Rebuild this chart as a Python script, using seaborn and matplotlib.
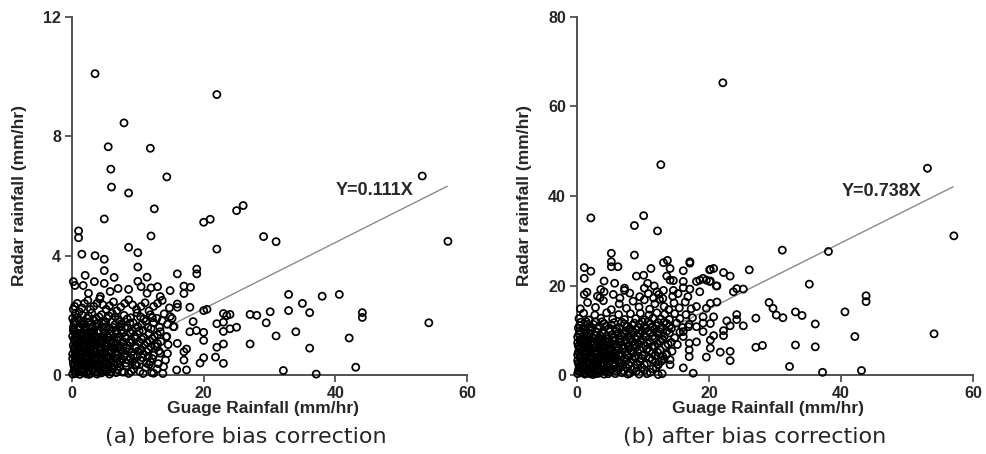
import matplotlib
matplotlib.use("Agg")
import matplotlib.pyplot as plt
import seaborn as sns
import pandas as pd

# ---------------- data ----------------
x_ticks = [0, 20, 40, 60]
y_ticks_a = [0, 4, 8, 12]
y_ticks_b = [0, 20, 40, 60, 80]
slope_a = 0.111
slope_b = 0.738
line_x = [0, 57]
eq_a = "Y=0.111X"
eq_b = "Y=0.738X"
x_label = "Guage Rainfall (mm/hr)"
y_label = "Radar rainfall (mm/hr)"
caption_a = "(a) before bias correction"
caption_b = "(b) after bias correction"

# (a) before bias correction: scattered points (gauge, radar)
scatter_a = [
    (3.5, 10.1), (22.0, 9.4), (7.9, 8.45), (5.5, 7.65), (11.9, 7.6), (5.9, 6.9),
    (14.4, 6.64), (53.2, 6.67), (6.0, 6.3), (8.6, 6.1), (12.5, 5.57), (4.9, 5.23),
    (1.0, 4.83), (1.0, 4.6), (12.0, 4.66), (20.0, 5.12), (21.0, 5.22), (25.0, 5.51),
    (26.0, 5.68), (29.1, 4.64), (31.0, 4.47), (22.0, 4.22), (57.1, 4.48), (8.6, 4.28),
    (10.0, 4.1), (1.5, 4.05), (3.5, 4.0), (4.9, 3.88), (10.0, 3.62), (4.9, 3.5),
    (2.0, 3.34), (6.4, 3.27), (11.4, 3.28), (16.0, 3.39), (18.95, 3.55), (18.95, 3.39),
    (32.9, 2.7), (38.0, 2.64), (40.6, 2.7), (35.0, 2.4), (44.1, 2.09), (44.1, 1.93),
    (27.05, 2.03), (28.07, 2.0), (30.1, 2.12), (32.9, 2.16), (36.1, 2.09), (29.5, 1.75),
    (54.2, 1.75), (34.0, 1.45), (31.0, 1.31), (42.1, 1.24), (27.05, 1.04), (36.1, 0.9),
    (32.1, 0.15), (37.1, 0.03), (43.1, 0.26), (22.0, 1.72), (23.0, 1.77), (24.0, 2.03),
    (23.0, 2.06), (23.5, 1.99), (25.0, 1.6), (24.0, 1.55), (23.0, 1.46), (23.0, 1.04),
    (22.0, 0.93), (21.8, 0.6), (23.0, 0.39), (20.0, 2.16), (20.5, 2.2), (20.0, 1.43),
    (20.0, 1.16), (20.0, 0.58), (19.45, 0.4), (18.9, 1.49), (17.9, 2.27), (17.9, 1.45),
    (17.4, 0.17), (15.9, 0.17), (17.0, 0.5), (17.0, 0.78), (16.0, 1.06), (17.4, 0.87),
    (18.4, 1.79), (16.0, 2.27), (16.0, 2.38), (17.0, 2.98), (17.0, 2.73), (18.0, 2.94),
    (14.9, 2.83), (13.4, 2.63), (13.0, 2.96), (0.45, 3.0), (1.7, 3.0), (10.0, 3.14),
    (3.4, 3.13), (4.9, 3.07), (8.6, 2.87), (7.0, 2.9), (10.5, 2.96), (12.0, 2.92),
    (11.4, 2.74), (2.5, 2.74), (4.3, 2.63), (5.8, 2.8), (0.2, 3.13), (14.9, 1.96),
    (15.4, 1.62), (14.4, 1.29), (13.4, 0.73), (13.9, 0.28), (12.4, 0.06), (11.9, 0.45),
    (12.9, 0.95),
]

# (a) dense cluster near the origin (gauge, radar)
cluster_a = [
    (0.1, 0.03), (0.3, 0.15), (0.5, 0.05), (0.7, 0.25), (0.9, 0.1), (1.2, 0.02), (1.4, 0.2),
    (1.7, 0.08), (2.0, 0.28), (2.2, 0.04), (2.5, 0.15), (2.8, 0.05), (3.1, 0.22), (3.4, 0.1),
    (3.8, 0.03), (4.1, 0.18), (4.5, 0.07), (4.9, 0.25), (5.3, 0.12), (5.7, 0.03), (6.2, 0.2),
    (6.7, 0.08), (7.3, 0.27), (7.9, 0.1), (8.6, 0.05), (9.4, 0.2), (10.3, 0.12), (11.2, 0.25),
    (12.1, 0.08), (12.9, 0.2), (13.8, 0.05),
    (0.2, 0.4), (0.5, 0.55), (0.8, 0.35), (1.1, 0.5), (1.4, 0.38), (1.8, 0.58), (2.1, 0.42),
    (2.5, 0.33), (2.9, 0.52), (3.2, 0.4), (3.6, 0.58), (4.0, 0.36), (4.4, 0.5), (4.8, 0.4),
    (5.2, 0.56), (5.6, 0.34), (6.0, 0.47), (6.5, 0.58), (7.0, 0.38), (7.6, 0.52), (8.2, 0.4),
    (8.9, 0.57), (9.6, 0.35), (10.4, 0.5), (11.3, 0.4), (12.2, 0.55), (13.1, 0.38), (14.2, 0.5),
    (0.1, 0.7), (0.4, 0.85), (0.7, 0.65), (1.0, 0.8), (1.3, 0.68), (1.7, 0.88), (2.0, 0.72),
    (2.4, 0.62), (2.8, 0.83), (3.1, 0.7), (3.5, 0.9), (3.9, 0.66), (4.3, 0.8), (4.7, 0.7),
    (5.1, 0.87), (5.5, 0.63), (6.0, 0.78), (6.4, 0.9), (6.9, 0.68), (7.4, 0.82), (8.0, 0.7),
    (8.7, 0.88), (9.3, 0.65), (10.0, 0.8), (10.8, 0.7), (11.6, 0.86), (12.4, 0.66), (13.2, 0.8),
    (14.5, 0.72),
    (0.2, 1.0), (0.5, 1.15), (0.9, 0.95), (1.2, 1.1), (1.6, 0.98), (2.0, 1.18), (2.3, 1.02),
    (2.7, 0.93), (3.1, 1.13), (3.4, 1.0), (3.8, 1.2), (4.2, 0.96), (4.6, 1.1), (5.0, 1.0),
    (5.4, 1.17), (5.9, 0.94), (6.3, 1.08), (6.8, 1.2), (7.3, 0.98), (7.8, 1.12), (8.4, 1.0),
    (9.0, 1.18), (9.7, 0.95), (10.3, 1.1), (11.0, 1.0), (11.8, 1.15), (12.6, 0.97), (13.5, 1.12),
    (14.6, 1.02),
    (0.1, 1.3), (0.4, 1.45), (0.8, 1.25), (1.1, 1.4), (1.5, 1.3), (1.9, 1.48), (2.3, 1.32),
    (2.6, 1.23), (3.0, 1.43), (3.5, 1.3), (3.9, 1.47), (4.4, 1.27), (4.9, 1.4), (5.4, 1.3),
    (5.9, 1.46), (6.4, 1.25), (6.9, 1.38), (7.5, 1.5), (8.1, 1.28), (8.8, 1.42), (9.5, 1.3),
    (10.2, 1.47), (10.9, 1.25), (11.7, 1.4), (12.5, 1.3), (13.4, 1.45), (14.3, 1.28),
    (0.2, 1.6), (0.6, 1.75), (1.0, 1.55), (1.5, 1.7), (2.1, 1.6), (2.6, 1.78), (3.2, 1.58),
    (3.8, 1.72), (4.5, 1.62), (5.1, 1.78), (5.8, 1.55), (6.5, 1.68), (7.2, 1.8), (8.0, 1.6),
    (8.8, 1.74), (9.7, 1.57), (10.6, 1.7), (11.5, 1.6), (12.4, 1.76), (13.3, 1.6), (14.5, 1.7),
    (15.5, 1.62),
    (0.1, 1.9), (0.5, 2.05), (1.0, 1.85), (1.6, 2.0), (2.3, 1.9), (3.0, 2.08), (3.7, 1.88),
    (4.5, 2.02), (5.3, 1.9), (6.1, 2.07), (7.0, 1.86), (7.9, 2.0), (8.9, 1.92), (9.9, 2.08),
    (10.9, 1.88), (11.9, 2.02), (12.9, 1.9), (14.0, 2.05), (15.2, 1.9),
    (0.2, 2.2), (0.8, 2.4), (1.5, 2.25), (2.4, 2.5), (3.3, 2.3), (4.2, 2.55), (5.2, 2.2),
    (6.3, 2.45), (7.4, 2.28), (8.6, 2.52), (9.8, 2.2), (11.1, 2.42), (12.4, 2.3), (13.7, 2.5),
    (14.8, 2.25),
]

# (a) further points packed into the dense core
core_a = [
    (0.3, 0.3), (0.6, 0.12), (1.0, 0.35), (1.3, 0.1), (1.6, 0.32), (1.9, 0.15), (2.3, 0.3),
    (2.6, 0.02), (3.0, 0.35), (3.3, 0.2), (3.6, 0.3), (4.0, 0.08), (4.3, 0.32), (4.7, 0.15),
    (5.1, 0.34), (5.5, 0.2), (5.9, 0.1), (6.4, 0.33), (6.9, 0.18), (7.6, 0.1), (8.2, 0.3),
    (9.0, 0.12), (9.8, 0.33), (10.8, 0.05), (11.7, 0.35),
    (0.1, 0.55), (0.4, 0.65), (0.7, 0.48), (1.0, 0.62), (1.3, 0.55), (1.6, 0.45), (2.0, 0.62),
    (2.3, 0.55), (2.7, 0.45), (3.0, 0.62), (3.4, 0.5), (3.8, 0.46), (4.2, 0.62), (4.6, 0.56),
    (5.0, 0.48), (5.4, 0.63), (5.8, 0.53), (6.3, 0.42), (6.8, 0.55), (7.3, 0.46), (7.9, 0.62),
    (8.5, 0.5), (9.2, 0.45), (9.9, 0.62), (10.7, 0.58), (11.6, 0.62),
    (0.3, 0.9), (0.6, 0.75), (0.9, 0.88), (1.2, 0.92), (1.5, 0.78), (1.9, 0.96), (2.2, 0.85),
    (2.6, 0.74), (3.0, 0.95), (3.3, 0.82), (3.7, 0.75), (4.1, 0.92), (4.5, 0.85), (4.9, 0.78),
    (5.3, 0.95), (5.7, 0.8), (6.2, 0.9), (6.6, 0.75), (7.1, 0.92), (7.7, 0.78), (8.3, 0.9),
    (9.0, 0.75), (9.7, 0.9), (10.5, 0.85), (11.3, 0.78), (12.0, 0.95),
    (0.3, 1.2), (0.7, 1.05), (1.0, 1.25), (1.4, 1.18), (1.8, 1.08), (2.1, 1.25), (2.5, 1.1),
    (2.9, 1.2), (3.3, 1.15), (3.7, 1.05), (4.0, 1.22), (4.4, 1.15), (4.8, 1.25), (5.2, 1.08),
    (5.6, 1.25), (6.1, 1.15), (6.6, 1.02), (7.1, 1.25), (7.6, 1.1), (8.2, 1.22), (8.9, 1.08),
    (9.6, 1.22), (10.6, 1.2), (11.4, 1.1), (12.2, 1.22), (13.0, 1.05),
    (0.2, 1.5), (0.6, 1.38), (0.9, 1.52), (1.3, 1.6), (1.7, 1.42), (2.1, 1.55), (2.5, 1.42),
    (2.8, 1.6), (3.3, 1.48), (3.6, 1.62), (4.1, 1.5), (4.7, 1.55), (5.2, 1.62), (5.7, 1.38),
    (6.2, 1.6), (6.7, 1.5), (7.3, 1.62), (7.8, 1.42), (8.5, 1.58), (9.2, 1.48), (10.0, 1.62),
    (10.8, 1.5), (12.0, 1.55), (13.0, 1.35),
    (0.3, 1.78), (0.8, 1.92), (1.3, 1.82), (1.9, 1.72), (2.5, 1.98), (3.4, 1.82), (4.1, 1.95),
    (4.8, 1.78), (5.6, 1.98), (6.6, 1.95), (7.5, 1.72), (8.4, 1.88), (9.3, 1.75), (10.4, 1.95),
    (11.2, 1.8), (12.2, 1.92), (13.7, 1.82),
    (0.4, 2.3), (1.1, 2.12), (1.9, 2.4), (2.8, 2.2), (3.8, 2.4), (4.7, 2.35), (5.7, 2.32),
    (6.8, 2.15), (8.0, 2.4), (9.2, 2.35), (10.5, 2.3), (11.7, 2.15), (13.0, 2.4),
]

# (b) after bias correction: scattered points (gauge, radar)
scatter_b = [
    (22.1, 65.3), (12.7, 47.0), (53.1, 46.2), (2.1, 35.1), (10.1, 35.6), (8.7, 33.4),
    (12.2, 32.2), (57.1, 31.1), (31.1, 27.9), (38.1, 27.6), (35.2, 20.3), (43.8, 17.7),
    (43.8, 16.4), (40.6, 14.1), (54.1, 9.2), (42.1, 8.6), (36.1, 11.4), (36.1, 6.3),
    (33.1, 6.7), (32.2, 1.9), (37.2, 0.6), (43.1, 1.0), (29.1, 16.2), (29.7, 14.9),
    (30.2, 13.4), (31.2, 12.8), (33.1, 14.1), (34.1, 13.3), (27.1, 12.7), (27.1, 6.2),
    (28.1, 6.6), (26.1, 23.5), (25.2, 19.2), (24.2, 19.3), (23.7, 18.6), (23.2, 22.1),
    (22.2, 22.9), (20.7, 23.8), (20.2, 23.6), (21.2, 19.9), (19.6, 21.2), (20.2, 21.0),
    (20.2, 16.0), (21.2, 16.3), (20.7, 13.0), (20.2, 11.5), (22.7, 12.1), (23.2, 11.0),
    (24.2, 13.5), (24.2, 12.4), (25.2, 11.0), (22.2, 9.9), (22.2, 8.8), (20.7, 8.8),
    (20.2, 7.8), (23.2, 5.3), (21.7, 5.1), (23.2, 3.2), (20.2, 6.0), (19.6, 4.0),
    (16.1, 1.6), (17.6, 0.4), (17.0, 7.1), (17.0, 5.6), (17.0, 4.1), (18.1, 7.4),
    (16.1, 8.6), (16.1, 9.7), (16.9, 10.8), (18.1, 10.8), (19.1, 9.7), (19.1, 13.0),
    (18.1, 15.3), (19.6, 14.9), (19.1, 11.6), (14.1, 3.4), (14.1, 2.3), (12.3, 2.3),
    (12.3, 0.1), (13.6, 4.7), (5.2, 27.2), (8.7, 26.8), (5.2, 25.3), (5.2, 24.2),
    (6.2, 24.2), (1.1, 24.0), (2.1, 23.2), (1.1, 21.6), (4.1, 21.0), (5.7, 20.5),
    (3.6, 19.1), (3.1, 17.6), (1.1, 18.0), (11.2, 23.8), (9.0, 22.1), (10.1, 22.3),
    (13.1, 25.1), (13.7, 25.6), (14.1, 23.8), (13.6, 22.1), (14.1, 21.2), (14.6, 21.1),
    (16.1, 23.3), (17.1, 25.3), (17.1, 25.0), (20.1, 23.5), (19.1, 21.6), (18.1, 20.9),
    (18.6, 21.2), (20.1, 20.9), (21.1, 19.9), (16.1, 20.9), (14.6, 18.9), (16.1, 19.5),
    (17.1, 19.2), (18.6, 18.6), (10.7, 20.5), (11.7, 19.9), (10.2, 19.4), (7.2, 19.4),
    (7.2, 18.9), (4.1, 18.6), (12.1, 18.6), (13.1, 18.9),
]

# (b) dense cluster near the origin (gauge, radar)
cluster_b = [
    (0.1, 0.3), (0.3, 1.5), (0.6, 0.6), (0.9, 1.8), (1.2, 0.2), (1.5, 1.1), (1.8, 0.5),
    (2.1, 1.6), (2.4, 0.1), (2.7, 0.9), (3.0, 1.9), (3.3, 0.4), (3.7, 1.3), (4.1, 0.2),
    (4.5, 1.7), (4.9, 0.7), (5.3, 1.4), (5.8, 0.3), (6.3, 1.2), (6.8, 0.5), (7.4, 1.8),
    (8.0, 0.4), (8.7, 1.5), (9.4, 0.2), (10.2, 1.1), (11.1, 0.6), (12.0, 1.7), (12.9, 0.3),
    (0.2, 2.6), (0.5, 3.8), (0.8, 2.2), (1.1, 3.3), (1.4, 2.5), (1.8, 3.9), (2.1, 2.9),
    (2.5, 2.1), (2.9, 3.5), (3.2, 2.6), (3.6, 3.9), (4.0, 2.3), (4.4, 3.2), (4.8, 2.7),
    (5.2, 3.8), (5.7, 2.2), (6.2, 3.4), (6.7, 2.6), (7.2, 3.9), (7.8, 2.4), (8.4, 3.5),
    (9.1, 2.2), (9.8, 3.7), (10.6, 2.6), (11.4, 3.4), (12.3, 2.3), (13.2, 3.6),
    (0.1, 4.5), (0.4, 5.8), (0.7, 4.2), (1.0, 5.3), (1.3, 4.6), (1.7, 5.9), (2.0, 4.9),
    (2.4, 4.1), (2.8, 5.5), (3.1, 4.6), (3.5, 5.9), (3.9, 4.3), (4.3, 5.2), (4.7, 4.7),
    (5.1, 5.8), (5.6, 4.2), (6.0, 5.4), (6.5, 4.6), (7.0, 5.9), (7.6, 4.4), (8.2, 5.5),
    (8.8, 4.2), (9.5, 5.7), (10.2, 4.6), (11.0, 5.4), (11.8, 4.3), (12.6, 5.6), (13.5, 4.5),
    (14.4, 5.3),
    (0.2, 6.5), (0.5, 7.8), (0.9, 6.2), (1.2, 7.3), (1.6, 6.6), (2.0, 7.9), (2.3, 6.9),
    (2.7, 6.1), (3.1, 7.5), (3.4, 6.6), (3.8, 7.9), (4.2, 6.3), (4.6, 7.2), (5.0, 6.7),
    (5.4, 7.8), (5.9, 6.2), (6.3, 7.4), (6.8, 6.6), (7.3, 7.9), (7.8, 6.4), (8.4, 7.5),
    (9.0, 6.2), (9.7, 7.7), (10.3, 6.6), (11.0, 7.4), (11.8, 6.3), (12.6, 7.6), (13.4, 6.5),
    (14.3, 7.3), (15.2, 6.8),
    (0.1, 8.5), (0.4, 9.8), (0.8, 8.2), (1.2, 9.3), (1.7, 8.6), (2.2, 9.9), (2.7, 8.9),
    (3.2, 8.1), (3.8, 9.5), (4.4, 8.6), (5.0, 9.9), (5.6, 8.3), (6.2, 9.2), (6.8, 8.7),
    (7.4, 9.8), (8.0, 8.2), (8.6, 9.4), (9.2, 8.6), (9.8, 9.9), (10.4, 8.4), (11.1, 9.5),
    (11.8, 8.2), (12.5, 9.7), (13.2, 8.6), (14.0, 9.4), (14.8, 8.3), (15.6, 9.6),
    (0.2, 10.5), (0.6, 11.8), (1.1, 10.2), (1.6, 11.3), (2.2, 10.6), (2.8, 11.9), (3.4, 10.9),
    (4.1, 11.5), (4.8, 10.3), (5.6, 11.7), (6.4, 10.6), (7.2, 11.4), (8.0, 10.2), (8.7, 11.6),
    (9.3, 10.7), (9.9, 11.9), (10.5, 10.4), (11.1, 11.4), (11.7, 10.2), (12.3, 11.7),
    (12.9, 10.6), (13.6, 11.5), (14.3, 10.4), (15.1, 11.6), (16.0, 10.6), (17.0, 11.3),
    (0.3, 12.6), (1.0, 13.8), (1.8, 12.3), (2.7, 13.4), (3.6, 12.7), (4.5, 13.9), (5.4, 12.5),
    (6.3, 13.5), (7.2, 12.4), (8.1, 13.7), (8.9, 12.6), (9.6, 13.8), (10.3, 12.3), (10.9, 13.4),
    (11.5, 12.7), (12.1, 13.9), (12.7, 12.5), (13.3, 13.6), (14.0, 12.4), (14.8, 13.7),
    (15.6, 12.6), (16.5, 13.5), (17.5, 12.8),
    (0.5, 14.8), (1.6, 16.2), (2.8, 15.1), (4.0, 16.6), (5.2, 14.6), (6.4, 15.9), (7.5, 14.9),
    (8.5, 16.5), (9.4, 15.2), (10.2, 16.8), (11.0, 14.7), (11.8, 15.9), (12.5, 16.9),
    (13.2, 15.3), (13.9, 14.6), (14.7, 16.1), (15.5, 15.0), (16.4, 16.3), (17.3, 14.8),
    (1.5, 18.5), (3.5, 17.3), (5.5, 18.0), (6.5, 17.2), (8.0, 18.3), (9.5, 17.5), (10.8, 18.2),
    (11.6, 17.2), (12.4, 18.0), (13.0, 17.1), (14.5, 17.6), (15.3, 18.2), (16.8, 17.5),
]

# (b) further points packed into the dense core
core_b = [
    (0.2, 0.9), (0.5, 1.9), (0.8, 1.2), (1.0, 0.4), (1.4, 1.7), (1.7, 1.0), (2.0, 0.3),
    (2.3, 1.3), (2.6, 1.8), (2.9, 0.3), (3.2, 1.2), (3.5, 0.8), (3.9, 1.9), (4.3, 0.9),
    (4.7, 0.3), (5.1, 1.2), (5.5, 1.9), (6.0, 0.9), (6.5, 1.8), (7.1, 0.9), (7.7, 0.2),
    (8.3, 1.2), (9.0, 0.9), (9.8, 1.7), (10.6, 0.3), (11.5, 1.4),
    (0.1, 3.2), (0.4, 2.1), (0.7, 3.1), (1.0, 2.5), (1.3, 3.8), (1.6, 2.9), (2.0, 2.3),
    (2.3, 3.6), (2.7, 2.9), (3.0, 2.3), (3.4, 3.3), (3.8, 2.8), (4.2, 3.9), (4.6, 2.2),
    (5.0, 3.3), (5.4, 2.6), (5.9, 3.9), (6.4, 2.9), (6.9, 2.2), (7.5, 3.3), (8.1, 2.8),
    (8.8, 3.9), (9.5, 3.0), (10.2, 2.3), (11.0, 3.8), (11.9, 2.8), (12.8, 3.1),
    (0.2, 5.1), (0.5, 4.4), (0.9, 5.9), (1.2, 4.1), (1.5, 5.2), (1.9, 4.3), (2.2, 5.7),
    (2.6, 4.7), (3.0, 5.1), (3.3, 4.1), (3.7, 5.3), (4.1, 5.8), (4.5, 4.2), (4.9, 5.3),
    (5.3, 4.5), (5.8, 5.0), (6.3, 5.9), (6.8, 4.2), (7.3, 5.1), (7.9, 5.9), (8.5, 4.9),
    (9.2, 5.1), (9.9, 4.3), (10.6, 5.8), (11.4, 4.8), (12.2, 5.1), (13.0, 4.2),
    (0.1, 7.2), (0.4, 6.1), (0.7, 7.0), (1.1, 6.6), (1.4, 7.9), (1.8, 6.3), (2.1, 7.3),
    (2.5, 6.8), (2.9, 6.4), (3.3, 7.1), (3.6, 7.8), (4.0, 6.9), (4.4, 7.6), (4.8, 6.2),
    (5.2, 7.1), (5.7, 7.6), (6.1, 6.4), (6.6, 7.2), (7.1, 6.1), (7.6, 7.1), (8.1, 7.8),
    (8.7, 6.8), (9.4, 6.9), (10.0, 7.9), (10.7, 7.0), (11.4, 6.4), (12.2, 7.0), (13.0, 7.8),
    (13.8, 6.9),
    (0.3, 9.1), (0.6, 8.0), (1.0, 8.9), (1.4, 9.8), (1.9, 9.0), (2.4, 8.3), (3.0, 9.6),
    (3.5, 8.8), (4.1, 9.3), (4.7, 8.1), (5.3, 9.0), (5.9, 9.8), (6.5, 8.2), (7.1, 9.1),
    (7.7, 8.6), (8.3, 9.9), (8.9, 8.1), (9.5, 9.2), (10.1, 8.8), (10.8, 9.9), (11.5, 8.7),
    (12.2, 9.3), (12.9, 8.1), (13.6, 9.8),
    (0.4, 11.1), (0.9, 10.6), (1.4, 11.9), (1.9, 10.8), (2.5, 11.3), (3.1, 10.4), (3.8, 11.9),
    (4.4, 10.9), (5.2, 11.2), (6.0, 10.3), (6.8, 11.8), (7.6, 10.8), (8.4, 11.1), (9.0, 10.2),
    (9.6, 11.3), (10.2, 10.9), (10.8, 11.9), (11.4, 10.8), (12.0, 11.0), (12.6, 10.3),
    (13.2, 11.8), (14.0, 10.9),
]

# ---------------- figure ----------------
sns.set_theme(style="ticks")
plt.rcParams["font.family"] = ["Liberation Sans", "DejaVu Sans"]

W, H = 986, 454
fig = plt.figure(figsize=(W / 100, H / 100), dpi=100)
ax_a = fig.add_axes([72 / W, 1 - 375 / H, 395 / W, 358 / H])
ax_b = fig.add_axes([577 / W, 1 - 375 / H, 396 / W, 358 / H])

panels = [
    (ax_a, scatter_a + cluster_a + core_a, slope_a, y_ticks_a, eq_a, (46.0, 6.2),
     20, caption_a, 246, 263),
    (ax_b, scatter_b + cluster_b + core_b, slope_b, y_ticks_b, eq_b, (46.1, 41.0),
     525, caption_b, 755, 768),
]

for ax, pts, slope, yt, eq, eqpos, ylab_x, cap, cap_x, xlab_x in panels:
    df = pd.DataFrame(pts, columns=["gauge", "radar"])
    sns.scatterplot(data=df, x="gauge", y="radar", ax=ax, marker="o", s=26,
                    facecolor="none", edgecolor="black", linewidth=1.25,
                    clip_on=False, zorder=3)
    ldf = pd.DataFrame({"gauge": line_x, "radar": [slope * v for v in line_x]})
    sns.lineplot(data=ldf, x="gauge", y="radar", ax=ax, color="#8a8a8a",
                 linewidth=1.0, zorder=2)
    ax.set_xlim(0, 60)
    ax.set_ylim(yt[0], yt[-1])
    ax.set_xticks(x_ticks)
    ax.set_yticks(yt)
    ax.set_xlabel("")
    ax.set_ylabel("")
    for s in ["top", "right"]:
        ax.spines[s].set_visible(False)
    for s in ["left", "bottom"]:
        ax.spines[s].set_color("#505050")
        ax.spines[s].set_linewidth(1.4)
    ax.tick_params(direction="out", length=5, width=1.3, color="#505050",
                   labelsize=11.5, pad=3)
    for lab in ax.get_xticklabels() + ax.get_yticklabels():
        lab.set_fontweight("bold")
    ax.text(eqpos[0], eqpos[1], eq, ha="center", va="center",
            fontsize=13, fontweight="bold")
    fig.text(ylab_x / W, 1 - 196 / H, y_label, rotation=90, ha="center", va="center",
             fontsize=12.5, fontweight="bold")
    fig.text(xlab_x / W, 1 - 409 / H, x_label, ha="center", va="center",
             fontsize=12.5, fontweight="bold")
    fig.text(cap_x / W, 1 - 437 / H, cap, ha="center", va="center",
             fontsize=16, family=["DejaVu Sans"])

fig.savefig("out.png", dpi=100)
